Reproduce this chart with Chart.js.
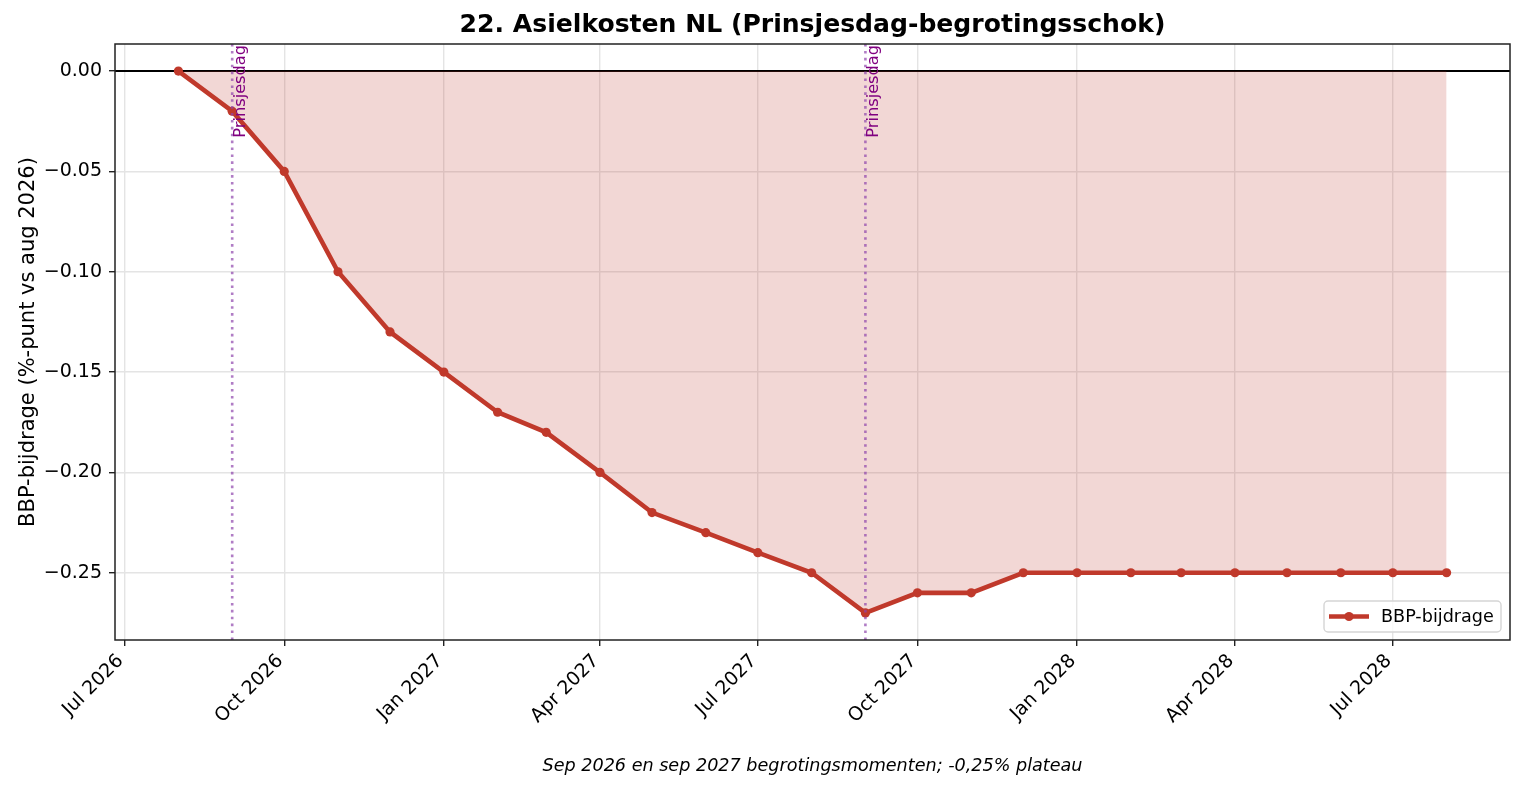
<!DOCTYPE html>
<html>
<head>
<meta charset="utf-8">
<script src="https://cdn.jsdelivr.net/npm/chart.js@4.4.1/dist/chart.umd.min.js"></script>
<style>
  html, body { margin: 0; padding: 0; background: #fff; }
</style>
</head>
<body>
<canvas id="lineChart" width="1523" height="791"></canvas>
<script>
// maanden (eerste van de maand) en BBP-bijdrage in %-punt
const months = ['2026-08', '2026-09', '2026-10', '2026-11', '2026-12',
    '2027-01', '2027-02', '2027-03', '2027-04', '2027-05', '2027-06', '2027-07', '2027-08',
    '2027-09', '2027-10', '2027-11', '2027-12',
    '2028-01', '2028-02', '2028-03', '2028-04', '2028-05', '2028-06', '2028-07', '2028-08']
const bijdrage = [0.00, -0.02, -0.05, -0.10, -0.13,
    -0.15, -0.17, -0.18, -0.20, -0.22, -0.23, -0.24, -0.25,
    -0.27, -0.26, -0.26, -0.25,
    -0.25, -0.25, -0.25, -0.25, -0.25, -0.25, -0.25, -0.25]

const tickMonths = ['2026-07', '2026-10', '2027-01', '2027-04', '2027-07', '2027-10', '2028-01', '2028-04', '2028-07']
const tickLabels = ['Jul 2026', 'Oct 2026', 'Jan 2027', 'Apr 2027', 'Jul 2027', 'Oct 2027', 'Jan 2028', 'Apr 2028', 'Jul 2028']
const yTicks = [0, -0.05, -0.10, -0.15, -0.20, -0.25]
const prinsjesdag = ['2026-09', '2027-09']

const FONT = 'DejaVu Sans'
const RED = '#c0392b'

function toDay(m) {
    const [y, mo] = m.split('-').map(Number)
    return Date.UTC(y, mo - 1, 1) / 864e5
}

const points = months.map((m, i) => ({ x: toDay(m), y: bijdrage[i] }))

// matplotlib-achtige marge van 5%
const xFirst = toDay(months[0]), xLast = toDay(months[months.length - 1])
const xPad = (xLast - xFirst) * 0.05
const yLo = Math.min(...bijdrage), yHi = Math.max(...bijdrage)
const yPad = (yHi - yLo) * 0.05

const extras = {
    id: 'extras',
    beforeDatasetsDraw(chart) {
        const { ctx, chartArea: a, scales: { y } } = chart
        const y0 = y.getPixelForValue(0)
        ctx.save()
        ctx.strokeStyle = '#000'
        ctx.lineWidth = 2
        ctx.beginPath()
        ctx.moveTo(a.left, y0)
        ctx.lineTo(a.right, y0)
        ctx.stroke()
        ctx.restore()
    },
    afterDatasetsDraw(chart) {
        const { ctx, chartArea: a, scales: { x } } = chart
        ctx.save()
        prinsjesdag.forEach(m => {
            const px = x.getPixelForValue(toDay(m))
            ctx.strokeStyle = 'rgba(142,68,173,0.7)'
            ctx.lineWidth = 2.6
            ctx.setLineDash([2.6, 4.3])
            ctx.beginPath()
            ctx.moveTo(px, a.top)
            ctx.lineTo(px, a.bottom)
            ctx.stroke()
            ctx.setLineDash([])
            ctx.save()
            ctx.translate(px, a.top + 1)
            ctx.rotate(-Math.PI / 2)
            ctx.fillStyle = 'purple'
            ctx.font = '16.2px "' + FONT + '"'
            ctx.textAlign = 'right'
            ctx.textBaseline = 'top'
            ctx.fillText('Prinsjesdag', 0, 0)
            ctx.restore()
        })
        ctx.restore()
    },
    afterDraw(chart) {
        const { ctx, chartArea: a } = chart
        ctx.save()
        // kader
        ctx.strokeStyle = '#222'
        ctx.lineWidth = 1.5
        ctx.strokeRect(a.left, a.top, a.right - a.left, a.bottom - a.top)

        // titel
        ctx.fillStyle = '#000'
        ctx.textAlign = 'center'
        ctx.textBaseline = 'alphabetic'
        ctx.font = 'bold 25.1px "' + FONT + '"'
        ctx.fillText('22. Asielkosten NL (Prinsjesdag-begrotingsschok)', (a.left + a.right) / 2, 32)

        // onderschrift
        ctx.font = 'italic 17.6px "' + FONT + '"'
        ctx.fillText('Sep 2026 en sep 2027 begrotingsmomenten; -0,25% plateau', (a.left + a.right) / 2, 771)

        // y-as titel
        ctx.save()
        ctx.translate(34, (a.top + a.bottom) / 2)
        ctx.rotate(-Math.PI / 2)
        ctx.font = '21px "' + FONT + '"'
        ctx.fillText('BBP-bijdrage (%-punt vs aug 2026)', 0, 0)
        ctx.restore()

        // legenda
        const lx = 1324, ly = 601, lw = 177, lh = 31
        ctx.beginPath()
        ctx.roundRect(lx, ly, lw, lh, 4)
        ctx.fillStyle = 'rgba(255,255,255,0.8)'
        ctx.fill()
        ctx.strokeStyle = '#d5d5d5'
        ctx.lineWidth = 1.4
        ctx.stroke()
        const my = ly + lh / 2
        ctx.strokeStyle = RED
        ctx.lineWidth = 4.6
        ctx.beginPath()
        ctx.moveTo(lx + 5, my)
        ctx.lineTo(lx + 45, my)
        ctx.stroke()
        ctx.fillStyle = RED
        ctx.beginPath()
        ctx.arc(lx + 25, my, 4.6, 0, Math.PI * 2)
        ctx.fill()
        ctx.fillStyle = '#000'
        ctx.textAlign = 'left'
        ctx.textBaseline = 'middle'
        ctx.font = '17.6px "' + FONT + '"'
        ctx.fillText('BBP-bijdrage', lx + 57, my + 1)
        ctx.restore()
    }
}

const ctx = document.getElementById('lineChart')
const myChart = new Chart(ctx, {
    type: 'line',
    data: {
        datasets: [{
            label: 'BBP-bijdrage',
            data: points,
            borderColor: RED,
            borderWidth: 4.6,
            backgroundColor: 'rgba(192,57,43,0.2)',
            fill: { value: 0 },
            pointRadius: 4.6,
            pointBackgroundColor: RED,
            pointBorderWidth: 0,
            tension: 0
        }]
    },
    options: {
        responsive: false,
        devicePixelRatio: 1,
        animation: false,
        layout: {
            padding: { top: 44, right: 13, left: 0, bottom: 0 }
        },
        scales: {
            x: {
                type: 'linear',
                min: xFirst - xPad,
                max: xLast + xPad,
                afterBuildTicks: axis => { axis.ticks = tickMonths.map(m => ({ value: toDay(m) })) },
                afterFit: axis => { axis.height = 151 },
                border: { display: false },
                grid: { color: '#e4e4e4', lineWidth: 1.4, tickColor: '#222', tickWidth: 1.4, tickLength: 6 },
                ticks: {
                    autoSkip: false,
                    minRotation: 45,
                    maxRotation: 45,
                    padding: 4,
                    labelOffset: -4,
                    color: '#000',
                    font: { family: FONT, size: 19 },
                    callback: (v, i) => tickLabels[i]
                }
            },
            y: {
                min: yLo - yPad,
                max: yHi + yPad,
                afterBuildTicks: axis => { axis.ticks = yTicks.map(v => ({ value: v })) },
                afterFit: axis => { axis.width = 115 },
                border: { display: false },
                grid: { color: '#e4e4e4', lineWidth: 1.4, tickColor: '#222', tickWidth: 1.4, tickLength: 6 },
                ticks: {
                    padding: 7,
                    color: '#000',
                    font: { family: FONT, size: 19 },
                    callback: v => (v < 0 ? '\u2212' : '') + Math.abs(v).toFixed(2)
                }
            }
        },
        plugins: {
            legend: { display: false },
            tooltip: { enabled: false }
        }
    },
    plugins: [extras]
})
</script>
</body>
</html>
